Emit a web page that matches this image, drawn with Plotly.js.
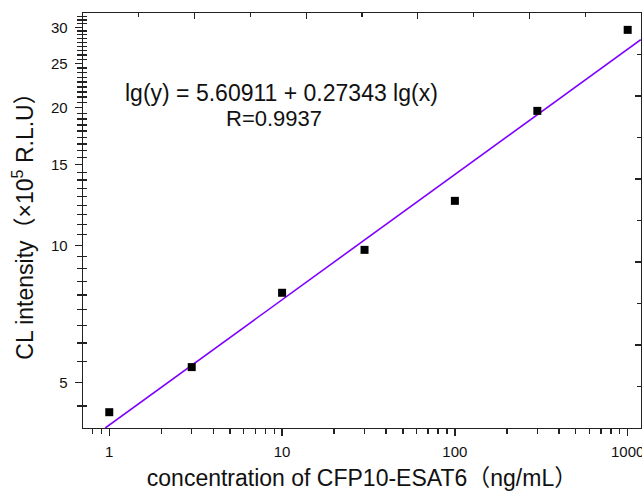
<!DOCTYPE html>
<html>
<head>
<meta charset="utf-8">
<script src="https://cdn.plot.ly/plotly-3.0.1.min.js"></script>
<style>html,body{margin:0;padding:0;background:#fff;}#chart{width:642px;height:493px;}</style>
</head>
<body>
<div id="chart"></div>
<script>
// Data
const concentration = [1, 3, 10, 30, 100, 300, 1000];
const clIntensity = [4.31, 5.41, 7.87, 9.77, 12.51, 19.69, 29.62];
// fitted line endpoints (read at the plot edges)
const fitX = [0.948, 1190];
const fitY = [3.98, 28.2];
const xTickVals = [1, 10, 100, 1000];
const xTickText = ['1', '10', '100', '1000'];
const yTickVals = [5, 10, 15, 20, 25, 30];
const yTickText = ['5', '10', '15', '20', '25', '30'];
const equationText = 'lg(y) = 5.60911 + 0.27343 lg(x)';
const rText = 'R=0.9937';

// minor tick positions (axis styling only)
const xMinor = [0.8, 0.9];
[1, 10, 100].forEach(d => { for (let k = 2; k <= 9; k++) xMinor.push(k * d); });
const yMinor = [];
for (let i = 0; i < 60; i++) {
  const v = Math.round((5 - 5 / 9 + i * 5 / 9) * 1000) / 1000;
  if (v > 32.2) break;
  if (i % 9 !== 1) yMinor.push(v);
}

const FONT = 'Liberation Sans, Arial, Noto Sans CJK SC, sans-serif';
const AX = '#222';
const XR = [-0.152, 3.077];
const YR = [Math.log10(3.98), Math.log10(32.25)];
const PW = 558, PH = 415;

const traces = [
  { x: fitX, y: fitY, mode: 'lines', type: 'scatter', line: {color: 'rgb(128,0,255)', width: 1.6}, showlegend: false },
  { x: concentration, y: clIntensity, mode: 'markers', type: 'scatter', marker: {symbol: 'square', size: 8, color: '#000'}, showlegend: false },
  { x: [], y: [], xaxis: 'x2', yaxis: 'y2', type: 'scatter', mode: 'markers', showlegend: false },
  { x: [], y: [], xaxis: 'x', yaxis: 'y3', type: 'scatter', mode: 'markers', showlegend: false }
];

const mirror = (side, anchor, over) => ({
  overlaying: over, side: side, anchor: anchor, range: [0, 10],
  tickmode: 'linear', tick0: 0, dtick: 2, ticks: 'inside', ticklen: 6, tickwidth: 1.2, tickcolor: AX,
  minor: {dtick: 1, ticks: 'inside', ticklen: 4, tickwidth: 1.2, tickcolor: AX, showgrid: false},
  showticklabels: false, showline: true, linecolor: AX, linewidth: 1.3,
  showgrid: false, zeroline: false, fixedrange: true
});

const layout = {
  width: 642, height: 493,
  margin: {l: 83, r: 1, t: 13, b: 65},
  paper_bgcolor: '#fff', plot_bgcolor: 'rgba(0,0,0,0)',
  font: {family: FONT, color: '#111'},
  showlegend: false,
  xaxis: {
    type: 'log', range: XR,
    tickmode: 'array', tickvals: xTickVals, ticktext: xTickText,
    ticks: 'outside', ticklen: 7, tickwidth: 1.3, tickcolor: AX,
    minor: {tickmode: 'array', tickvals: xMinor, ticks: 'outside', ticklen: 5, tickwidth: 1.3, tickcolor: AX, showgrid: false},
    showline: true, linecolor: AX, linewidth: 1.3,
    showgrid: false, zeroline: false,
    tickfont: {size: 15, family: FONT, color: '#111'},
    ticklabelstandoff: 3, ticklabeloverflow: 'allow',
    title: {text: 'concentration of CFP10-ESAT6（ng/mL）', font: {size: 23, family: FONT, color: '#111'}, standoff: 10},
    automargin: false
  },
  yaxis: {
    type: 'log', range: YR,
    tickmode: 'array', tickvals: yTickVals, ticktext: yTickText,
    ticks: 'outside', ticklen: 7, tickwidth: 1.3, tickcolor: AX,
    minor: {tickmode: 'array', tickvals: yMinor, ticks: 'outside', ticklen: 5, tickwidth: 1.3, tickcolor: AX, showgrid: false},
    showline: true, linecolor: AX, linewidth: 1.3,
    showgrid: false, zeroline: false,
    tickfont: {size: 15, family: FONT, color: '#111'},
    ticklabelstandoff: 4,
    title: {text: 'CL intensity（×10<sup>5</sup> R.L.U）\u00a0\u00a0\u00a0\u00a0\u00a0\u00a0\u00a0', font: {size: 23, family: FONT, color: '#111'}, standoff: 11},
    automargin: false
  },
  xaxis2: mirror('top', 'y', 'x'),
  yaxis2: mirror('right', 'x', 'y'),
  yaxis3: {
    overlaying: 'y', side: 'left', anchor: 'x', type: 'log', range: YR,
    tickmode: 'array', tickvals: yMinor, ticks: 'inside', ticklen: 4, tickwidth: 1.3, tickcolor: AX,
    showticklabels: false, showline: false, showgrid: false, zeroline: false, fixedrange: true
  },
  annotations: [
    { text: equationText, xref: 'paper', yref: 'paper', x: (281 - 83) / PW, y: (428 - 93) / PH, xanchor: 'center', yanchor: 'middle', showarrow: false, font: {size: 23, family: FONT, color: '#111'} },
    { text: rText, xref: 'paper', yref: 'paper', x: (273.5 - 83) / PW, y: (428 - 118) / PH, xanchor: 'center', yanchor: 'middle', showarrow: false, font: {size: 22, family: FONT, color: '#111'} }
  ]
};

Plotly.newPlot('chart', traces, layout, {staticPlot: true, displayModeBar: false});
</script>
</body>
</html>
